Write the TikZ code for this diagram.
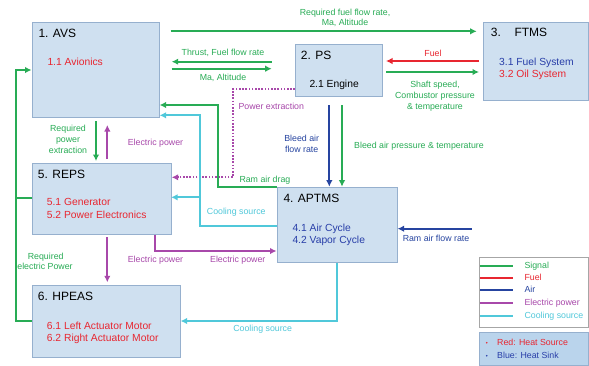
\documentclass[tikz,border=0pt]{standalone}
\usepackage{fontspec}
\setmainfont{Liberation Sans}
\usetikzlibrary{arrows.meta}
\definecolor{sigc}{RGB}{40,172,85}
\definecolor{fuelc}{RGB}{232,38,48}
\definecolor{airc}{RGB}{38,68,160}
\definecolor{elc}{RGB}{168,72,170}
\definecolor{coolc}{RGB}{80,200,218}
\definecolor{boxf}{RGB}{207,224,240}
\definecolor{boxd}{RGB}{150,176,206}
\definecolor{heatf}{RGB}{186,212,236}
\definecolor{redt}{RGB}{232,38,48}
\definecolor{bluet}{RGB}{40,62,168}
\begin{document}
\begin{tikzpicture}[x=1pt,y=-1pt,
  sysbox/.style={draw=boxd,fill=boxf,line width=0.6pt,inner sep=0pt,anchor=north west},
  ttl/.style={anchor=base west,font=\fontsize{12}{14}\selectfont,inner sep=0pt},
  sub/.style={anchor=base west,font=\fontsize{10.3}{12}\selectfont,inner sep=0pt},
  lbl/.style={anchor=base,font=\fontsize{8.8}{10}\selectfont,inner sep=0pt},
  lbll/.style={anchor=base west,font=\fontsize{8.8}{10}\selectfont,inner sep=0pt},
  tip/.style={-{Latex[length=6.5pt,width=6.5pt]}},
  sig/.style={draw=sigc,line width=2.2pt},
  fuel/.style={draw=fuelc,line width=2.2pt},
  air/.style={draw=airc,line width=2.2pt},
  elec/.style={draw=elc,line width=2.2pt},
  cool/.style={draw=coolc,line width=2.2pt},
  dotl/.style={draw=elc,line width=2.2pt,dash pattern=on 1.6pt off 1.6pt}
]
\useasboundingbox (0,0) rectangle (589,365);
\fill[white] (0,0) rectangle (589,365);

% boxes
\node[sysbox,minimum width=127.5pt,minimum height=95pt] (avs) at (31.5,21.5) {};
\node[sysbox,minimum width=87pt,minimum height=52pt] (ps) at (295,44) {};
\node[sysbox,minimum width=105pt,minimum height=78.5pt] (ftms) at (483,21.5) {};
\node[sysbox,minimum width=139pt,minimum height=71.5pt] (reps) at (31.5,162.5) {};
\node[sysbox,minimum width=119.5pt,minimum height=75.5pt] (aptms) at (277,186.7) {};
\node[sysbox,minimum width=148.5pt,minimum height=71.5pt] (hpeas) at (31.5,285) {};
\node[draw=black!35,fill=white,line width=0.6pt,inner sep=0pt,anchor=north west,minimum width=109pt,minimum height=69.5pt] (legend) at (479,257.3) {};
\node[draw=boxd,fill=heatf,line width=0.4pt,inner sep=0pt,anchor=north west,minimum width=109pt,minimum height=33pt] (heat) at (479,332.3) {};

% box texts
\node[ttl] (avst) at (38.3,37.3) {1. AVS};
\node[sub,text=redt] (avs1) at (47.3,65.7) {1.1 Avionics};
\node[ttl] (pst) at (300.7,59.3) {2. PS};
\node[sub] (ps1) at (309.3,87.7) {2.1 Engine};
\node[ttl] (ftmsn) at (490.7,36.7) {3.};
\node[ttl] (ftmst) at (514.3,36.7) {FTMS};
\node[sub,text=bluet] (ftms1) at (499,65) {3.1 Fuel System};
\node[sub,text=redt] (ftms2) at (499,77.3) {3.2 Oil System};
\node[ttl] (repst) at (37.7,178.3) {5. REPS};
\node[sub,text=redt] (reps1) at (46.7,205.7) {5.1 Generator};
\node[sub,text=redt] (reps2) at (46.7,218) {5.2 Power Electronics};
\node[ttl] (aptmst) at (283.3,202.7) {4. APTMS};
\node[sub,text=bluet] (aptms1) at (292.3,231.3) {4.1 Air Cycle};
\node[sub,text=bluet] (aptms2) at (292.3,243.7) {4.2 Vapor Cycle};
\node[ttl] (hpeast) at (37.7,300) {6. HPEAS};
\node[sub,text=redt] (hpeas1) at (46.7,329) {6.1 Left Actuator Motor};
\node[sub,text=redt] (hpeas2) at (46.7,341) {6.2 Right Actuator Motor};

% connector end points
\coordinate (a1s) at (170.7,31.3); \coordinate (a1e) at (476.7,31.3);
\coordinate (a2s) at (271.7,61.7); \coordinate (a2e) at (171.7,61.7);
\coordinate (a3s) at (171.7,68.7); \coordinate (a3e) at (271.7,68.7);
\coordinate (a4s) at (479,61); \coordinate (a4e) at (386,61);
\coordinate (a5s) at (386,72); \coordinate (a5e) at (479,72);
\coordinate (pxa) at (232.7,89.3); \coordinate (pxb) at (232.7,177.3); \coordinate (pxe) at (171.7,177.3);
\coordinate (rda) at (218.3,187.3); \coordinate (rdb) at (218.3,105);
\coordinate (cla) at (200,226); \coordinate (clb) at (200,115.3); \coordinate (clc) at (200,197.3);
\coordinate (chb) at (336.7,321);
\coordinate (b1s) at (329.3,105); \coordinate (b2s) at (342,105);
\coordinate (rfs) at (471.7,228.7);
\coordinate (rpx) at (96,121); \coordinate (rpe) at (96,161);
\coordinate (epx) at (107.3,159); \coordinate (epe) at (107.3,125);
\coordinate (ehs) at (107.3,237.3); \coordinate (ehe) at (107.3,282.3);
\coordinate (eas) at (155,234); \coordinate (eab) at (155,251);
\coordinate (lpa) at (16,321); \coordinate (lpb) at (16,70); \coordinate (lpc) at (16,197.7);

% connectors
\draw[sig,tip] (a1s) -- (a1e);
\draw[sig,tip] (a2s) -- (a2e);
\draw[sig,tip] (a3s) -- (a3e);
\draw[fuel,tip] (a4s) -- (a4e);
\draw[sig,tip] (a5s) -- (a5e);
\draw[dotl] (ps.west |- pxa) -- (pxa) -- (pxb) -- ([xshift=5pt]pxe);
\draw[elc,line width=2.2pt,tip] ([xshift=6pt]pxe) -- (pxe);
\draw[sig,tip] (aptms.north west |- rda) -- (rda) -- (rdb) -- (avs.east |- rdb);
\draw[cool,tip] (aptms.west |- cla) -- (cla) -- (clb) -- (avs.east |- clb);
\draw[cool,tip] (clc) -- (reps.east |- clc);
\draw[cool,tip] (aptms.south -| chb) -- (chb) -- (hpeas.east |- chb);
\draw[air,tip] (b1s) -- (aptms.north -| b1s);
\draw[sig,tip] (b2s) -- (aptms.north -| b2s);
\draw[air,tip] (rfs) -- ([xshift=0.5pt]aptms.east |- rfs);
\draw[sig,tip] (rpx) -- (rpe);
\draw[elec,tip] (epx) -- (epe);
\draw[elec,tip] (ehs) -- (ehe);
\draw[elec,tip] (reps.south -| eas) -- (eab) -- ([xshift=-0.5pt]aptms.west |- eab);
\draw[sig,tip] (hpeas.west |- lpa) -- (lpa) -- (lpb) -- (avs.west |- lpb);
\draw[sig] (reps.west |- lpc) -- (lpc);

% connector labels
\node[lbl,text=sigc] (l1a) at (345,15) {Required fuel flow rate,};
\node[lbl,text=sigc] (l1b) at (345,25.7) {Ma, Altitude};
\node[lbl,text=sigc] (l2) at (223,55) {Thrust, Fuel flow rate};
\node[lbl,text=sigc] (l3) at (223,80) {Ma, Altitude};
\node[lbl,text=fuelc] (l4) at (433,56) {Fuel};
\node[lbl,text=sigc] (l5a) at (435,87.3) {Shaft speed,};
\node[lbl,text=sigc] (l5b) at (435,98.3) {Combustor pressure};
\node[lbl,text=sigc] (l5c) at (435,109) {\& temperature};
\node[lbll,text=elc] (l6) at (238.3,109.3) {Power extraction};
\node[lbl,text=airc] (l7a) at (301.7,141.7) {Bleed air};
\node[lbl,text=airc] (l7b) at (301.7,152.3) {flow rate};
\node[lbll,text=sigc] (l8) at (354,148.7) {Bleed air pressure \& temperature};
\node[lbl,text=sigc] (l9a) at (68,131.7) {Required};
\node[lbl,text=sigc] (l9b) at (68,142.5) {power};
\node[lbl,text=sigc] (l9c) at (68,153.3) {extraction};
\node[lbl,text=elc] (l10) at (155.5,145) {Electric power};
\node[lbll,text=sigc] (l11) at (239.3,182.7) {Ram air drag};
\node[lbll,text=coolc] (l12) at (206.7,214.3) {Cooling source};
\node[lbl,text=sigc] (l13a) at (45.7,259.3) {Required};
\node[lbl,text=sigc] (l13b) at (45,269.3) {electric Power};
\node[lbl,text=elc] (l14) at (155.5,262) {Electric power};
\node[lbl,text=elc] (l15) at (237.8,262.7) {Electric power};
\node[lbl,text=airc] (l16) at (436,241) {Ram air flow rate};
\node[lbl,text=coolc] (l17) at (262.7,331.7) {Cooling source};

% legend
\coordinate (lg1) at (480,265.7); \coordinate (lg1e) at (513.3,265.7);
\coordinate (lg2) at (480,277.7); \coordinate (lg2e) at (513.3,277.7);
\coordinate (lg3) at (480,290); \coordinate (lg3e) at (513.3,290);
\coordinate (lg4) at (480,303.3); \coordinate (lg4e) at (513.3,303.3);
\coordinate (lg5) at (480,315.7); \coordinate (lg5e) at (513.3,315.7);
\draw[sig] (lg1) -- (lg1e);
\draw[fuel] (lg2) -- (lg2e);
\draw[air] (lg3) -- (lg3e);
\draw[elec] (lg4) -- (lg4e);
\draw[cool] (lg5) -- (lg5e);
\node[lbll,text=sigc] (lt1) at (524.3,268.3) {Signal};
\node[lbll,text=fuelc] (lt2) at (524.3,280.7) {Fuel};
\node[lbll,text=airc] (lt3) at (524.3,292.7) {Air};
\node[lbll,text=elc] (lt4) at (524.3,305.7) {Electric power};
\node[lbll,text=coolc] (lt5) at (524.3,318.3) {Cooling source};

% heat box
\fill[redt] (486.7,342.7) circle (0.9pt);
\fill[bluet] (486.7,355.7) circle (0.9pt);
\node[lbll,text=redt] (h1) at (497,345.7) {Red: Heat Source};
\node[lbll,text=bluet] (h2) at (497,358.7) {Blue: Heat Sink};
\end{tikzpicture}
\end{document}
